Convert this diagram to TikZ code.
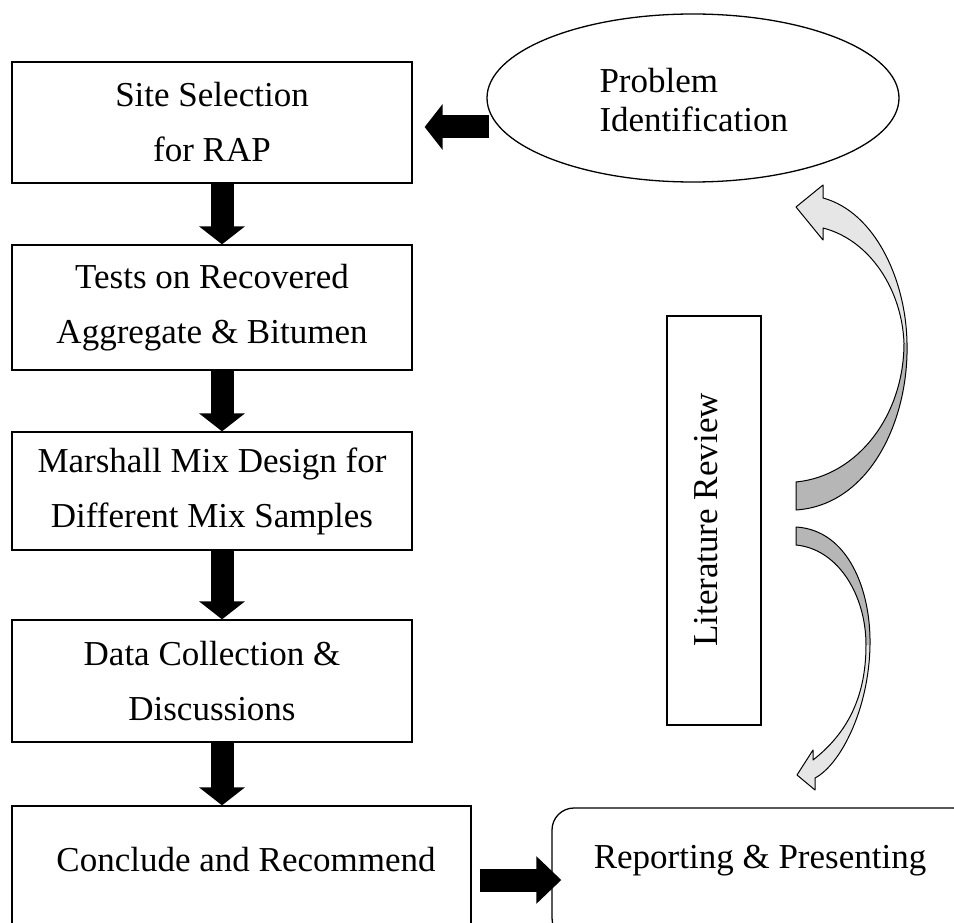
\documentclass[tikz,border=0pt]{standalone}
\usepackage{fontspec}
\setmainfont{Liberation Serif}
\usetikzlibrary{arrows.meta,shapes.geometric}
\definecolor{lightg}{HTML}{E6E6E6}
\definecolor{darkg}{HTML}{B6B6B6}
\begin{document}
\begin{tikzpicture}[x=1pt,y=-1pt,
  txt/.style={font=\fontsize{35}{55}\selectfont, align=center},
  box/.style={draw, line width=1.3pt, inner sep=0pt, txt},
  blk/.style={line width=23pt, -{Triangle[length=18pt,width=45pt]}},
  curv/.style={draw, line width=1pt, line join=round}]
\useasboundingbox (0,0) rectangle (954,923);
\begin{scope}
\clip (0,0) rectangle (954,923);
\node[box, minimum width=400pt, minimum height=121pt] (b1) at (212,122.5) {Site Selection\\for RAP};
\node[box, minimum width=400pt, minimum height=125pt] (b2) at (212,307.5) {Tests on Recovered\\Aggregate \& Bitumen};
\node[box, minimum width=400pt, minimum height=118pt] (b3) at (212,491) {Marshall Mix Design for\\Different Mix Samples};
\node[box, minimum width=400pt, minimum height=122pt] (b4) at (212,681) {Data Collection \&\\Discussions};
\node[box, minimum width=459pt, minimum height=134pt] (b5) at (241.5,873) {};
\node[txt] (t5) at (246,860) {Conclude and Recommend};
\node[box, rounded corners=22pt, minimum width=423pt, minimum height=132pt] (rep) at (763.5,874) {};
\node[txt] (t6) at (760,861) {Reporting \& Presenting};
\node[draw, line width=1.3pt, ellipse, minimum width=412pt, minimum height=168pt, inner sep=0pt] (ell) at (693,98) {};
\node[txt, align=left, font=\fontsize{35}{39}\selectfont, anchor=west] (t7) at (596,100) {Problem\\Identification};
\node[draw, line width=1.3pt, minimum width=94pt, minimum height=409pt, inner sep=0pt] (lit) at (714,520.5) {};
\node[txt, rotate=90] (t8) at (706,520) {Literature Review};
\coordinate (ea) at ([xshift=3pt,yshift=-29pt]ell.west);
\coordinate (a4) at ([xshift=10pt]b4.south);
\coordinate (ra) at ([xshift=8pt,yshift=-7pt]b5.east);

\draw[blk] ([xshift=10pt]b1.south) -- ([xshift=10pt]b2.north);
\draw[blk] ([xshift=10pt]b2.south) -- ([xshift=10pt]b3.north);
\draw[blk] ([xshift=10pt]b3.south) -- ([xshift=10pt]b4.north);
\draw[blk] (a4) -- (a4 |- b5.north);
\draw[blk, shorten >=12pt] (ea) -- (b1.east |- ea);
\draw[line width=23pt, -{Triangle[length=25pt,width=46pt]}, shorten >=-10pt] (ra) -- (rep.west |- ra);

% upper curved arrow
\fill[darkg] (907,343) .. controls (909,420) and (870,505) .. (796,510) -- (796,482) .. controls (858,476) and (904,415) .. (904,343) -- cycle;
\fill[lightg] (796,207) -- (823,185) -- (823,198) .. controls (875,212) and (906,280) .. (907,343) -- (904,343) .. controls (902,290) and (870,240) .. (823,228) -- (823,240) -- cycle;
\draw[curv] (796,207) -- (823,185) -- (823,198) .. controls (875,212) and (906,280) .. (907,343)
  .. controls (909,420) and (870,505) .. (796,510) -- (796,482) .. controls (858,476) and (904,415) .. (904,343)
  .. controls (902,290) and (870,240) .. (823,228) -- (823,240) -- cycle;
% lower curved arrow
\fill[darkg] (796,527) .. controls (848,530) and (871,590) .. (870,645) -- (866,645) .. controls (866,595) and (838,549) .. (796,545) -- cycle;
\fill[lightg] (870,645) .. controls (869,710) and (840,765) .. (815,778) -- (815,790) -- (797,775) -- (813,750) -- (813,760) .. controls (845,735) and (866,700) .. (866,645) -- cycle;
\draw[curv] (796,527) .. controls (848,530) and (871,590) .. (870,645)
  .. controls (869,710) and (840,765) .. (815,778) -- (815,790) -- (797,775) -- (813,750) -- (813,760)
  .. controls (845,735) and (866,700) .. (866,645) .. controls (866,595) and (838,549) .. (796,545) -- cycle;
\end{scope}
\end{tikzpicture}
\end{document}
